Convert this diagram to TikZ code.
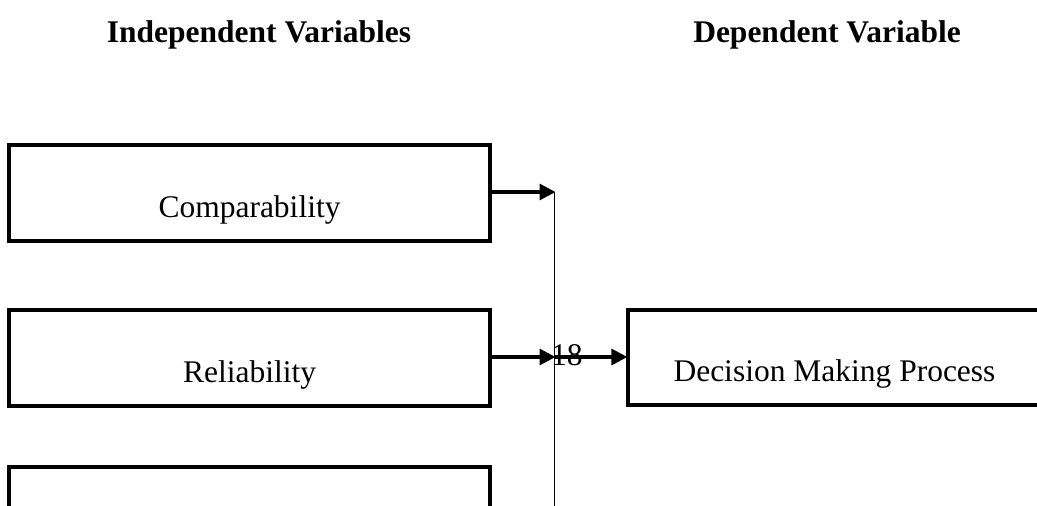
\documentclass[tikz,border=0pt]{standalone}
\usepackage{fontspec}
\setmainfont{Liberation Serif}
\usetikzlibrary{arrows.meta}
\begin{document}
\begin{tikzpicture}[x=1pt,y=-1pt,
  varbox/.style={draw, line width=3.2pt, inner sep=0pt, minimum width=481pt, minimum height=96pt,
    text height=48pt, text depth=0pt, font=\fontsize{31.5}{36}\selectfont},
  outbox/.style={varbox, minimum width=413pt, minimum height=95pt},
  header/.style={anchor=base, font=\fontsize{31.5}{36}\selectfont\bfseries},
  link/.style={line width=3.2pt, -{Triangle[length=16pt,width=16pt]}, shorten >=-1pt},
  bus/.style={line width=1.6pt}]
\useasboundingbox (0,0) rectangle (1037,506);
\clip (0,0) rectangle (1037,506);
% headings
\node[header] (hin) at (259,42) {Independent Variables};
\node[header] (hout) at (827,42) {Dependent Variable};
% independent variable boxes
\node[varbox] (comp) at (249.5,193) {Comparability};
\node[varbox] (rel) at (249.5,358) {Reliability};
\node[varbox] (third) at (249.5,515) {};
% dependent variable box
\node[outbox] (dmp) at (834.5,357.5) {Decision Making Process};
% collecting line
\coordinate (bt) at (554.5,192);
\coordinate (bb) at (554.5,520);
\coordinate (bm) at (554.5,357);
\draw[bus] (bt) -- (bb);
% arrows
\draw[link] (comp.east |- bt) -- (bt);
\draw[link] (rel.east |- bm) -- (bm);
\draw[link] (bm) -- (dmp.west |- bm);
\node[anchor=base west, inner sep=0pt, font=\fontsize{31.5}{36}\selectfont] (num) at (551,365) {18};
\end{tikzpicture}
\end{document}
